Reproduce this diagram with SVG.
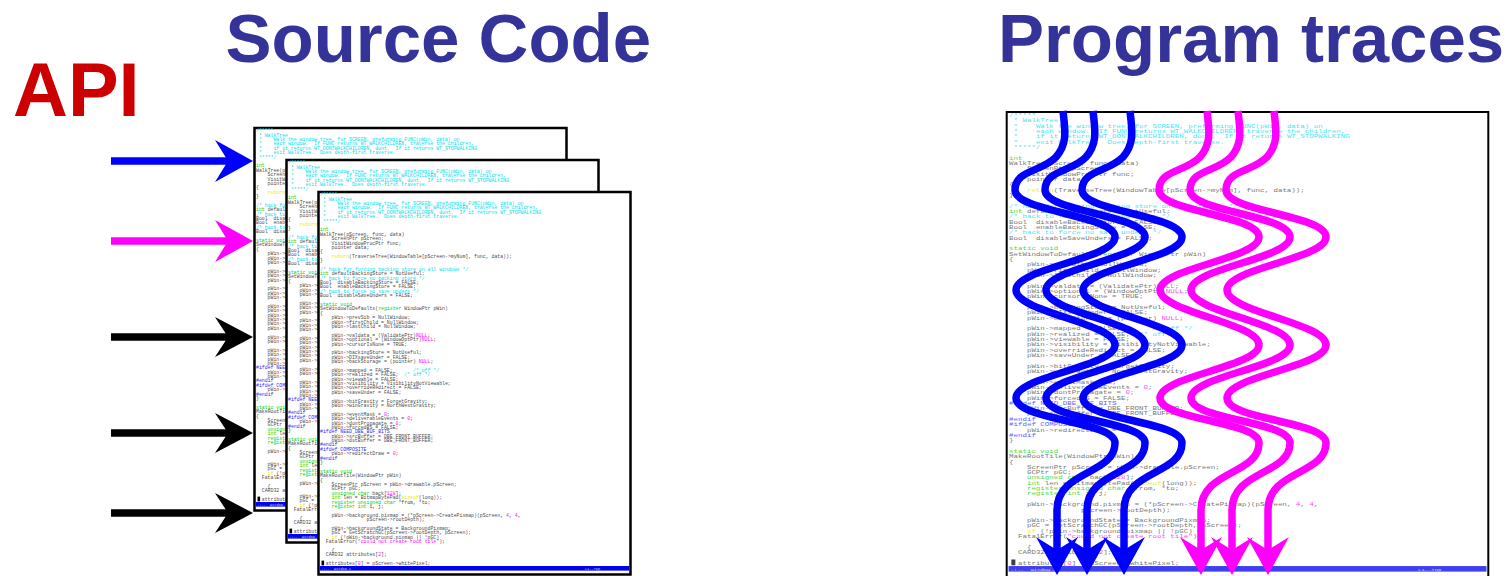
<svg xmlns="http://www.w3.org/2000/svg" xmlns:xlink="http://www.w3.org/1999/xlink" width="1511" height="576" viewBox="0 0 1511 576">
  <style>
    .title { font-family: "Liberation Sans", Arial, sans-serif; font-weight: bold; }
    .sheet { fill: #ffffff; stroke: #000000; stroke-width: 2.5; }
    .code text { font-family: "Liberation Mono", "Courier New", monospace; font-size: 4.85px; fill: #4a4a4a; }
    .code .c { fill: #00dcf0; }
    .code .k { fill: #00d000; }
    .code .y { fill: #e6e600; }
    .code .m { fill: #ff00ff; }
    .code .p { fill: #2a2aff; }
    .api { fill: none; stroke-width: 7.5; }
    .trace { fill: none; stroke-width: 7.5; }
  </style>
  <defs>
    <marker id="head-blue" viewBox="0 0 38 42" refX="13" refY="21" markerWidth="38" markerHeight="42" markerUnits="userSpaceOnUse" orient="auto">
      <path d="M0,0 L38,21 L0,42 L13,21 Z" fill="#0000ff"/>
    </marker>
    <marker id="head-magenta" viewBox="0 0 38 42" refX="13" refY="21" markerWidth="38" markerHeight="42" markerUnits="userSpaceOnUse" orient="auto">
      <path d="M0,0 L38,21 L0,42 L13,21 Z" fill="#ff00ff"/>
    </marker>
    <marker id="head-black" viewBox="0 0 38 40" refX="13" refY="20" markerWidth="38" markerHeight="40" markerUnits="userSpaceOnUse" orient="auto">
      <path d="M0,0 L38,20 L0,40 L13,20 Z" fill="#000000"/>
    </marker>

    <!-- one listing of window.c, laid out for the front sheet -->
    <g id="listing" class="code">
      <text x="320" y="196.2" class="c">/*****</text>
      <text x="322.9" y="200.6" class="c">* WalkTree</text>
      <text x="322.9" y="205.0" class="c">*&#160;&#160;&#160;&#160;Walk the window tree, for SCREEN, preforming FUNC(pWin, data) on</text>
      <text x="322.9" y="209.4" class="c">*&#160;&#160;&#160;&#160;each window.&#160;&#160;If FUNC returns WT_WALKCHILDREN, traverse the children,</text>
      <text x="322.9" y="213.8" class="c">*&#160;&#160;&#160;&#160;if it returns WT_DONTWALKCHILDREN, dont.&#160;&#160;If it returns WT_STOPWALKING</text>
      <text x="322.9" y="218.2" class="c">*&#160;&#160;&#160;&#160;exit WalkTree.&#160;&#160;Does depth-first traverse.</text>
      <text x="322.9" y="222.5" class="c">*****/</text>
      <text x="320" y="231.3" class="k">int</text>
      <text x="320" y="235.7">WalkTree(pScreen, func, data)</text>
      <text x="331.6" y="240.1">ScreenPtr pScreen;</text>
      <text x="331.6" y="244.5">VisitWindowProcPtr func;</text>
      <text x="331.6" y="248.9">pointer data;</text>
      <text x="320" y="253.3">{</text>
      <text x="331.6" y="257.7"><tspan class="y">return</tspan>(TraverseTree(WindowTable[pScreen-&gt;myNum], func, data));</text>
      <text x="320" y="262.1">}</text>
      <text x="320" y="270.8" class="c">/* hack for forcing backing store on all windows */</text>
      <text x="320" y="275.2"><tspan class="k">int</tspan> defaultBackingStore = NotUseful;</text>
      <text x="320" y="279.6" class="c">/* hack to force no backing store */</text>
      <text x="320" y="284.0">Bool&#160;&#160;disableBackingStore = FALSE;</text>
      <text x="320" y="288.4">Bool&#160;&#160;enableBackingStore = FALSE;</text>
      <text x="320" y="292.8" class="c">/* hack to force no save unders */</text>
      <text x="320" y="297.2">Bool&#160;&#160;disableSaveUnders = FALSE;</text>
      <text x="320" y="306.0" class="k">static void</text>
      <text x="320" y="310.3">SetWindowToDefaults(<tspan class="k">register</tspan> WindowPtr pWin)</text>
      <text x="320" y="314.7">{</text>
      <text x="331.6" y="319.1">pWin-&gt;prevSib = NullWindow;</text>
      <text x="331.6" y="323.5">pWin-&gt;firstChild = NullWindow;</text>
      <text x="331.6" y="327.9">pWin-&gt;lastChild = NullWindow;</text>
      <text x="331.6" y="336.7">pWin-&gt;valdata = (ValidatePtr)<tspan class="m">NULL</tspan>;</text>
      <text x="331.6" y="341.1">pWin-&gt;optional = (WindowOptPtr)<tspan class="m">NULL</tspan>;</text>
      <text x="331.6" y="345.5">pWin-&gt;cursorIsNone = TRUE;</text>
      <text x="331.6" y="354.2">pWin-&gt;backingStore = NotUseful;</text>
      <text x="331.6" y="358.6">pWin-&gt;DIXsaveUnder = FALSE;</text>
      <text x="331.6" y="363.0">pWin-&gt;backStorage = (pointer) <tspan class="m">NULL</tspan>;</text>
      <text x="331.6" y="371.8">pWin-&gt;mapped = FALSE;&#160;&#160;&#160;&#160;&#160;&#160;&#160;<tspan class="c">/* off */</tspan></text>
      <text x="331.6" y="376.2">pWin-&gt;realized = FALSE;&#160;&#160;<tspan class="c">/* off */</tspan></text>
      <text x="331.6" y="380.6">pWin-&gt;viewable = FALSE;</text>
      <text x="331.6" y="385.0">pWin-&gt;visibility = VisibilityNotViewable;</text>
      <text x="331.6" y="389.4">pWin-&gt;overrideRedirect = FALSE;</text>
      <text x="331.6" y="393.8">pWin-&gt;saveUnder = FALSE;</text>
      <text x="331.6" y="402.5">pWin-&gt;bitGravity = ForgetGravity;</text>
      <text x="331.6" y="406.9">pWin-&gt;winGravity = NorthWestGravity;</text>
      <text x="331.6" y="415.7">pWin-&gt;eventMask = <tspan class="m">0</tspan>;</text>
      <text x="331.6" y="420.1">pWin-&gt;deliverableEvents = <tspan class="m">0</tspan>;</text>
      <text x="331.6" y="424.5">pWin-&gt;dontPropagate = <tspan class="m">0</tspan>;</text>
      <text x="331.6" y="428.9">pWin-&gt;forcedBS = FALSE;</text>
      <text x="320" y="433.3" class="p">#ifdef NEED_DBE_BUF_BITS</text>
      <text x="331.6" y="437.7">pWin-&gt;srcBuffer = DBE_FRONT_BUFFER;</text>
      <text x="331.6" y="442.0">pWin-&gt;dstBuffer = DBE_FRONT_BUFFER;</text>
      <text x="320" y="446.4" class="p">#endif</text>
      <text x="320" y="450.8" class="p">#ifdef COMPOSITE</text>
      <text x="331.6" y="455.2">pWin-&gt;redirectDraw = <tspan class="m">0</tspan>;</text>
      <text x="320" y="459.6" class="p">#endif</text>
      <text x="320" y="464.0">}</text>
      <text x="320" y="472.8" class="k">static void</text>
      <text x="320" y="477.2">MakeRootTile(WindowPtr pWin)</text>
      <text x="320" y="481.6">{</text>
      <text x="331.6" y="485.9">ScreenPtr pScreen = pWin-&gt;drawable.pScreen;</text>
      <text x="331.6" y="490.3">GCPtr pGC;</text>
      <text x="331.6" y="494.7"><tspan class="k">unsigned char</tspan> back[<tspan class="m">128</tspan>];</text>
      <text x="331.6" y="499.1"><tspan class="k">int</tspan> len = BitmapBytePad(<tspan class="y">sizeof</tspan>(long));</text>
      <text x="331.6" y="503.5"><tspan class="k">register unsigned char</tspan> *from, *to;</text>
      <text x="331.6" y="507.9"><tspan class="k">register int</tspan> i, j;</text>
      <text x="331.6" y="516.7">pWin-&gt;background.pixmap = (*pScreen-&gt;CreatePixmap)(pScreen, <tspan class="m">4</tspan>, <tspan class="m">4</tspan>,</text>
      <text x="366.6" y="521.1">pScreen-&gt;rootDepth);</text>
      <text x="331.6" y="529.8">pWin-&gt;backgroundState = BackgroundPixmap;</text>
      <text x="331.6" y="534.2">pGC = GetScratchGC(pScreen-&gt;rootDepth, pScreen);</text>
      <text x="331.6" y="538.6"><tspan class="y">if</tspan> (!pWin-&gt;background.pixmap || !pGC)</text>
      <text x="325.8" y="543.0">FatalError(<tspan class="m">"could not create root tile"</tspan>);</text>
      <text x="331.6" y="551.8">{</text>
      <text x="325.8" y="556.2">CARD32 attributes[<tspan class="m">2</tspan>];</text>
      <rect x="321.5" y="560.6" width="2.6" height="4.8" fill="#000000"/>
      <text x="325.8" y="565.0">attributes[<tspan class="m">0</tspan>] = pScreen-&gt;whitePixel;</text>
      <!-- editor mode line -->
      <rect x="319.7" y="566" width="309.6" height="4.6" fill="#0000ee"/>
      <text x="321" y="569.8" style="font-size:3.6px;fill:#c8c8ff">-:--&#160;&#160;window.c</text>
      <text x="585" y="569.8" style="font-size:3.6px;fill:#c8c8ff">L1--Top</text>
    </g>
  </defs>

  <!-- headings -->
  <g id="api-label">
    <text class="title" x="13" y="116" font-size="76" fill="#cc0000">API</text>
  </g>
  <g id="source-code-title">
    <text class="title" x="225.5" y="62" font-size="69" fill="#333399">Source Code</text>
  </g>
  <g id="program-traces-title">
    <text class="title" x="998" y="62" font-size="69" fill="#333399">Program traces</text>
  </g>

  <!-- stack of three source sheets, back to front -->
  <g id="source-sheet-back">
    <rect class="sheet" x="254.5" y="128" width="312" height="382.5"/>
    <use xlink:href="#listing" href="#listing" transform="translate(-64,-64)"/>
  </g>
  <g id="source-sheet-middle">
    <rect class="sheet" x="286.5" y="160" width="312" height="382.5"/>
    <use xlink:href="#listing" href="#listing" transform="translate(-32,-32)"/>
  </g>
  <g id="source-sheet-front">
    <rect class="sheet" x="318.5" y="192" width="312" height="382.5"/>
    <use xlink:href="#listing" href="#listing"/>
  </g>

  <!-- the same listing, stretched, under the execution traces -->
  <g id="trace-sheet">
    <rect x="1006.7" y="112" width="481.6" height="470" fill="#ffffff" stroke="#000000" stroke-width="2"/>
    <use xlink:href="#listing" href="#listing" opacity="0.75" transform="translate(515.06,-121.09) scale(1.5436,1.214)"/>
  </g>

  <!-- API entry points into the source -->
  <g id="connectors">
    <line class="api" x1="111" y1="161" x2="228" y2="161" stroke="#0000ff" marker-end="url(#head-blue)"/>
    <line class="api" x1="111" y1="241" x2="228" y2="241" stroke="#ff00ff" marker-end="url(#head-magenta)"/>
    <line class="api" x1="111" y1="337" x2="228" y2="337" stroke="#000000" marker-end="url(#head-black)"/>
    <line class="api" x1="111" y1="433" x2="228" y2="433" stroke="#000000" marker-end="url(#head-black)"/>
    <line class="api" x1="111" y1="513" x2="228" y2="513" stroke="#000000" marker-end="url(#head-black)"/>
  </g>

  <!-- wavy execution traces -->
  <g id="traces">
    <path id="trace-path" class="trace" stroke="#0000ff" marker-end="url(#head-blue)"
      d="M1063,111 C1065,130 1068,143 1056,157 C1042,172 1015,170 1015,190 C1015,212 1115,215 1115,237 C1115,259 1016,268 1016,290 C1016,312 1115,323 1115,345 C1115,367 1016,376 1016,398 C1016,420 1115,421 1115,443 C1115,475 1057,470 1057,510 L1057,550"/>
    <use xlink:href="#trace-path" href="#trace-path" transform="translate(30,0)"/>
    <use xlink:href="#trace-path" href="#trace-path" transform="translate(67,0)"/>
    <path class="trace" stroke="#ff00ff" marker-end="url(#head-magenta)" transform="translate(144,0)"
      d="M1063,111 C1065,130 1068,143 1056,157 C1042,172 1015,170 1015,190 C1015,212 1115,215 1115,237 C1115,259 1016,268 1016,290 C1016,312 1115,323 1115,345 C1115,367 1016,376 1016,398 C1016,420 1115,421 1115,443 C1115,475 1057,470 1057,510 L1057,550"/>
    <path class="trace" stroke="#ff00ff" marker-end="url(#head-magenta)" transform="translate(175,0)"
      d="M1063,111 C1065,130 1068,143 1056,157 C1042,172 1015,170 1015,190 C1015,212 1115,215 1115,237 C1115,259 1016,268 1016,290 C1016,312 1115,323 1115,345 C1115,367 1016,376 1016,398 C1016,420 1115,421 1115,443 C1115,475 1057,470 1057,510 L1057,550"/>
    <path class="trace" stroke="#ff00ff" marker-end="url(#head-magenta)" transform="translate(211,0)"
      d="M1063,111 C1065,130 1068,143 1056,157 C1042,172 1015,170 1015,190 C1015,212 1115,215 1115,237 C1115,259 1016,268 1016,290 C1016,312 1115,323 1115,345 C1115,367 1016,376 1016,398 C1016,420 1115,421 1115,443 C1115,475 1057,470 1057,510 L1057,550"/>
  </g>
</svg>
